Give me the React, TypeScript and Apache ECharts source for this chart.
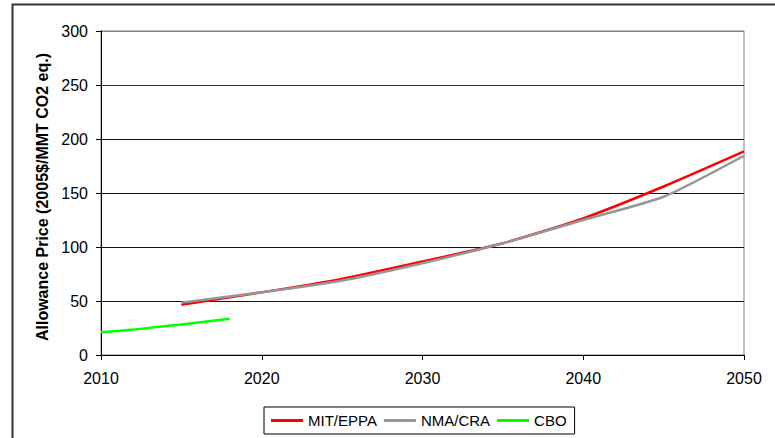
import React, { useEffect, useRef } from "react";
import * as echarts from "echarts";

const years = [2015, 2020, 2025, 2030, 2035, 2040, 2045, 2050];
const mitEppa = [46.6, 58, 70.5, 86.5, 103.5, 126.5, 156, 188.5];
const nmaCra = [48.5, 58, 69, 85, 103.5, 125, 146.5, 184.5];
const cboYears = [2010, 2012, 2015, 2018];
const cbo = [21, 23.5, 28.3, 33.5];
const yTicks = { min: 0, max: 300, interval: 50 };
const xTicks = { min: 2010, max: 2050, interval: 10 };
const yTitle = "Allowance Price (2005$/MMT CO2 eq.)";

const pair = (xs: number[], ys: number[]) => xs.map((x, i) => [x, ys[i]]);

export default function App() {
  const ref = useRef<HTMLDivElement>(null);
  useEffect(() => {
    if (!ref.current) return;
    const chart = echarts.init(ref.current, null, { renderer: "svg" });
    const font = "Arial, 'Liberation Sans', sans-serif";
    chart.setOption({
      animation: false,
      backgroundColor: "#fff",
      grid: {
        left: 101,
        right: 31,
        top: 31,
        bottom: 83,
        show: true,
        borderColor: "#808080",
        borderWidth: 1,
      },
      xAxis: {
        type: "value",
        min: xTicks.min,
        max: xTicks.max,
        interval: xTicks.interval,
        axisLine: { lineStyle: { color: "#000", width: 1 } },
        axisTick: { show: true, length: 5, inside: false, lineStyle: { color: "#000" } },
        axisLabel: { color: "#000", fontSize: 16, fontFamily: font, margin: 15, formatter: (v: number) => String(v) },
        splitLine: { show: false },
      },
      yAxis: {
        type: "value",
        min: yTicks.min,
        max: yTicks.max,
        interval: yTicks.interval,
        axisLine: { show: true, lineStyle: { color: "#000", width: 1 } },
        axisTick: { show: true, length: 5, lineStyle: { color: "#000" } },
        axisLabel: { color: "#000", fontSize: 16, fontFamily: font, margin: 13 },
        splitLine: {
          show: true,
          lineStyle: { color: ["#000", "#111", "#111", "#111", "#111", "#333", "#808080"], width: 1 },
        },
      },
      legend: {
        left: 264,
        top: 407,
        padding: [6, 8, 6, 7],
        itemGap: 7,
        itemWidth: 32,
        itemHeight: 3,
        icon: "rect",
        borderColor: "#000",
        borderWidth: 1,
        borderRadius: 0,
        textStyle: { color: "#000", fontSize: 15, fontFamily: font },
        data: ["MIT/EPPA", "NMA/CRA", "CBO"],
      },
      series: [
        {
          name: "MIT/EPPA",
          type: "line",
          data: pair(years, mitEppa),
          showSymbol: false,
          symbol: "none",
          smooth: 0.2,
          lineStyle: { color: "#ff0000", width: 2.5 },
          itemStyle: { color: "#ff0000" },
          z: 3,
        },
        {
          name: "NMA/CRA",
          type: "line",
          data: pair(years, nmaCra),
          showSymbol: false,
          symbol: "none",
          smooth: 0.2,
          lineStyle: { color: "#969696", width: 2.5 },
          itemStyle: { color: "#969696" },
          z: 4,
        },
        {
          name: "CBO",
          type: "line",
          data: pair(cboYears, cbo),
          showSymbol: false,
          symbol: "none",
          smooth: 0.2,
          lineStyle: { color: "#00ff00", width: 2.5 },
          itemStyle: { color: "#00ff00" },
        },
      ],
      graphic: [
        {
          type: "rect",
          shape: { x: 12.5, y: 4.5, width: 800, height: 500 },
          style: { fill: "none", stroke: "#333", lineWidth: 2 },
          silent: true,
        },
        {
          type: "text",
          x: 42,
          y: 197,
          rotation: Math.PI / 2,
          style: {
            text: yTitle,
            fill: "#000",
            font: "bold 16px Arial, 'Liberation Sans', sans-serif",
            textAlign: "center",
            textVerticalAlign: "middle",
          },
          silent: true,
        },
      ],
    });
    return () => chart.dispose();
  }, []);
  return (
    <div
      ref={ref}
      style={{ position: "fixed", left: 0, top: 0, width: 775, height: 438, background: "#fff" }}
    />
  );
}
